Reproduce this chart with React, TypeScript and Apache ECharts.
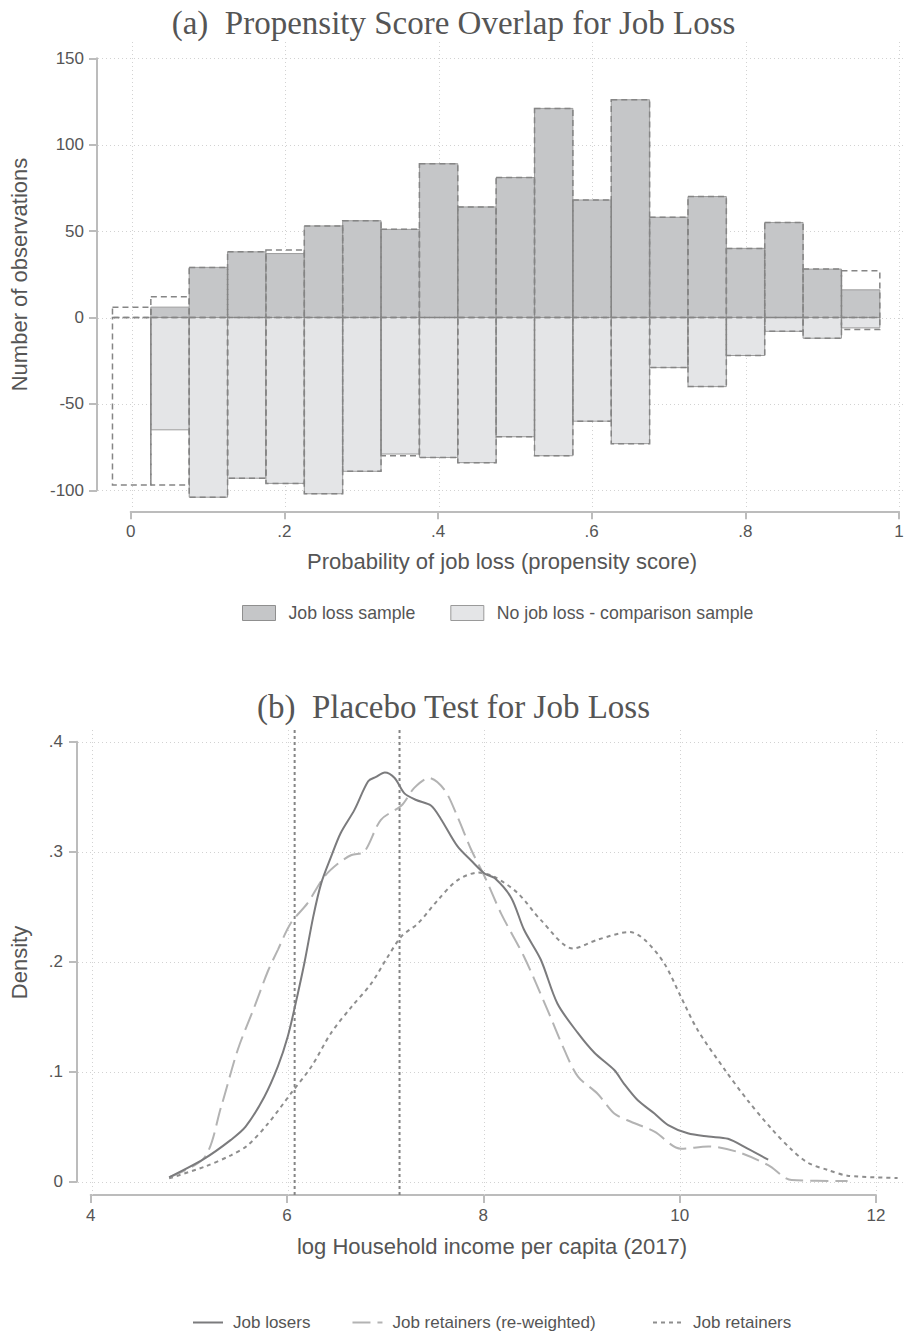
import React, { useEffect, useRef } from "react";
import * as echarts from "echarts";

// ---------- Panel (a): propensity score histogram ----------
const BIN_WIDTH = 0.05;
const binCenters = [0, 0.05, 0.1, 0.15, 0.2, 0.25, 0.3, 0.35, 0.4, 0.45, 0.5, 0.55, 0.6, 0.65, 0.7, 0.75, 0.8, 0.85, 0.9, 0.95];
const jobLossCounts = [0, 6, 29, 38, 37, 53, 56, 51, 89, 64, 81, 121, 68, 126, 58, 70, 40, 55, 28, 16];
const noJobLossCounts = [0, -65, -104, -93, -96, -102, -89, -79, -81, -84, -69, -80, -60, -73, -29, -40, -22, -8, -12, -6];
const jobLossUnweighted = [6, 12, 29, 38, 39, 53, 56, 51, 89, 64, 81, 121, 68, 126, 58, 70, 40, 55, 28, 27];
const noJobLossUnweighted = [-97, -97, -104, -93, -96, -102, -89, -80, -81, -84, -69, -80, -60, -73, -29, -40, -22, -8, -12, -7];
const xTicksA = [0, 0.2, 0.4, 0.6, 0.8, 1];
const xTickLabelsA = ["0", ".2", ".4", ".6", ".8", "1"];
const yTicksA = [-100, -50, 0, 50, 100, 150];

// ---------- Panel (b): kernel densities ----------
const jobLosersDensity = [
  [4.79, 0.004], [5.15, 0.021], [5.42, 0.038], [5.57, 0.05], [5.76, 0.077], [5.9, 0.105],
  [6.0, 0.132], [6.08, 0.162], [6.17, 0.199], [6.26, 0.241], [6.34, 0.271], [6.44, 0.295],
  [6.54, 0.317], [6.68, 0.338], [6.82, 0.364], [6.9, 0.368], [6.99, 0.372], [7.09, 0.367],
  [7.19, 0.353], [7.31, 0.347], [7.46, 0.342], [7.56, 0.33], [7.73, 0.305], [7.87, 0.292],
  [8.01, 0.28], [8.11, 0.276], [8.28, 0.258], [8.41, 0.229], [8.58, 0.202], [8.75, 0.162],
  [8.96, 0.135], [9.13, 0.117], [9.33, 0.1015], [9.43, 0.089], [9.57, 0.074], [9.74, 0.062],
  [9.88, 0.0515], [10.08, 0.044], [10.29, 0.041], [10.49, 0.039], [10.69, 0.03], [10.9, 0.02],
];
const retainersReweightedDensity = [
  [4.79, 0.004], [5.15, 0.022], [5.32, 0.068], [5.49, 0.12], [5.66, 0.159], [5.8, 0.192],
  [5.9, 0.211], [6.03, 0.235], [6.2, 0.253], [6.37, 0.277], [6.51, 0.289], [6.65, 0.297],
  [6.78, 0.3], [6.95, 0.329], [7.16, 0.342], [7.29, 0.358], [7.44, 0.367], [7.6, 0.356],
  [7.73, 0.332], [7.87, 0.302], [8.01, 0.277], [8.18, 0.243], [8.41, 0.2045], [8.65, 0.156],
  [8.82, 0.12], [8.96, 0.0955], [9.16, 0.08], [9.33, 0.062], [9.5, 0.0545], [9.74, 0.0455],
  [10.01, 0.03], [10.29, 0.032], [10.59, 0.027], [10.9, 0.015], [11.14, 0.0015], [11.71, 0.0006],
];
const retainersDensity = [
  [4.79, 0.003], [5.15, 0.0136], [5.42, 0.024], [5.59, 0.033], [5.8, 0.053], [6.03, 0.08],
  [6.24, 0.1045], [6.44, 0.135], [6.65, 0.159], [6.85, 0.18], [7.02, 0.2045], [7.16, 0.223],
  [7.33, 0.235], [7.53, 0.256], [7.73, 0.274], [7.94, 0.281], [8.11, 0.277], [8.35, 0.262],
  [8.58, 0.238], [8.91, 0.212], [9.16, 0.22], [9.49, 0.227], [9.64, 0.22], [9.84, 0.1985],
  [10.01, 0.168], [10.18, 0.138], [10.46, 0.1015], [10.69, 0.074], [10.93, 0.0485], [11.14, 0.029],
  [11.31, 0.017], [11.51, 0.0106], [11.71, 0.0055], [12.22, 0.0034],
];
const referenceLines = [6.07, 7.14];
const xTicksB = [4, 6, 8, 10, 12];
const yTicksB = [0, 0.1, 0.2, 0.3, 0.4];
const yTickLabelsB = ["0", ".1", ".2", ".3", ".4"];

const SANS = "Liberation Sans";
const SERIF = "Liberation Serif";
const TEXT = "#555555";
const AXIS = "#bcbcbc";
const GRIDC = "#d2d2d2";

export default function App() {
  const ref = useRef<HTMLDivElement>(null);
  useEffect(() => {
    if (!ref.current) return;
    const chart = echarts.init(ref.current, null, { renderer: "svg" });

    // layout (pixels)
    const A = { dataL: 97, dataT: 42, dataR: 906, dataB: 507, axL: 130.7, axR: 899, axT: 58.3, axB: 490.3, xLine: 511.3 };
    const B = { dataL: 77, dataT: 730, dataR: 906, dataB: 1195, axL: 90.7, axR: 876, axT: 741.7, axB: 1181.7, xLine: 1195 };

    const axMinA = xTicksA[0], axMaxA = xTicksA[xTicksA.length - 1];
    const ayMinA = yTicksA[0], ayMaxA = yTicksA[yTicksA.length - 1];
    const pxA = (A.axR - A.axL) / (axMaxA - axMinA);
    const pyA = (A.axB - A.axT) / (ayMaxA - ayMinA);
    const x0A = axMinA - (A.axL - A.dataL) / pxA;
    const x1A = axMaxA + (A.dataR - A.axR) / pxA;
    const y0A = ayMinA - (A.dataB - A.axB) / pyA;
    const y1A = ayMaxA + (A.axT - A.dataT) / pyA;

    const axMinB = xTicksB[0], axMaxB = xTicksB[xTicksB.length - 1];
    const ayMinB = yTicksB[0], ayMaxB = yTicksB[yTicksB.length - 1];
    const pxB = (B.axR - B.axL) / (axMaxB - axMinB);
    const pyB = (B.axB - B.axT) / (ayMaxB - ayMinB);
    const x0B = axMinB - (B.axL - B.dataL) / pxB;
    const x1B = axMaxB + (B.dataR - B.axR) / pxB;
    const y0B = ayMinB - (B.dataB - B.axB) / pyB;
    const y1B = ayMaxB + (B.axT - B.dataT) / pyB;

    const hGrid = (xi: number, yi: number, ticks: number[]) => ({
      type: "custom", xAxisIndex: xi, yAxisIndex: yi, silent: true, z: 1,
      data: ticks.map((v) => [0, v]),
      renderItem: (params: any, api: any) => {
        const cs = params.coordSys;
        const y = Math.round(api.coord([0, api.value(1)])[1]) + 0.5;
        return { type: "line", shape: { x1: cs.x, y1: y, x2: cs.x + cs.width, y2: y }, style: { stroke: GRIDC, lineWidth: 1, lineDash: [1, 3] } };
      },
    });
    const vGrid = (xi: number, yi: number, ticks: number[], yv: number) => ({
      type: "custom", xAxisIndex: xi, yAxisIndex: yi, silent: true, z: 1,
      data: ticks.map((v) => [v, yv]),
      renderItem: (params: any, api: any) => {
        const cs = params.coordSys;
        const x = Math.round(api.coord([api.value(0), 0])[0]) + 0.5;
        return { type: "line", shape: { x1: x, y1: cs.y, x2: x, y2: cs.y + cs.height }, style: { stroke: GRIDC, lineWidth: 1, lineDash: [1, 3] } };
      },
    });
    const bars = (name: string | undefined, values: number[], style: any, z: number) => ({
      type: "custom", name, xAxisIndex: 0, yAxisIndex: 0, z,
      itemStyle: { color: style.fill },
      data: binCenters.map((c, i) => [c, values[i]]),
      renderItem: (params: any, api: any) => {
        const c = api.value(0), v = api.value(1);
        if (!v) return null;
        const a = api.coord([c - BIN_WIDTH / 2, 0]);
        const b = api.coord([c + BIN_WIDTH / 2, v]);
        return {
          type: "rect",
          shape: { x: a[0], y: Math.min(a[1], b[1]), width: b[0] - a[0], height: Math.abs(b[1] - a[1]) },
          style,
        };
      },
    });

    const hiddenAxis = (grid: number, min: number, max: number, name: string, gap: number) => ({
      gridIndex: grid, type: "value", min, max, name, nameLocation: "middle", nameGap: gap,
      nameTextStyle: { fontFamily: SANS, fontSize: 22, color: TEXT },
      axisLine: { show: false, onZero: false }, axisTick: { show: false }, axisLabel: { show: false }, splitLine: { show: false },
    });
    const shownAxis = (grid: number, min: number, max: number, interval: number, offset: number, margin: number, fmt: (v: number) => string) => ({
      gridIndex: grid, type: "value", min, max, interval, offset,
      axisLine: { show: true, onZero: false, lineStyle: { color: AXIS, width: 2 } },
      axisTick: { show: true, length: 8, lineStyle: { color: AXIS, width: 2 } },
      axisLabel: { formatter: fmt, color: TEXT, fontFamily: SANS, fontSize: 17, margin },
      splitLine: { show: false },
    });
    const lineLegend = (left: number, names: string[]) => ({
      left, top: 1314, padding: 0, itemWidth: 30, itemHeight: 14, itemGap: 41, selectedMode: false,
      itemStyle: { opacity: 0 },
      textStyle: { fontFamily: SANS, fontSize: 17, color: TEXT, padding: [0, 0, 0, 5] },
      data: names,
    });

    const option: any = {
      animation: false,
      backgroundColor: "#ffffff",
      title: [
        { text: "(a)  Propensity Score Overlap for Job Loss", left: "center", top: 1, textStyle: { fontFamily: SERIF, fontSize: 33, fontWeight: "normal", color: TEXT } },
        { text: "(b)  Placebo Test for Job Loss", left: "center", top: 685, textStyle: { fontFamily: SERIF, fontSize: 33, fontWeight: "normal", color: TEXT } },
      ],
      legend: [
        {
          left: 242, top: 604, padding: 0, itemWidth: 33, itemHeight: 15, itemGap: 35, icon: "rect", selectedMode: false,
          textStyle: { fontFamily: SANS, fontSize: 17.7, color: TEXT, padding: [0, 0, 0, 8] },
          data: [
            { name: "Job loss sample", itemStyle: { color: "#c5c6c8", borderColor: "#8f8f8f", borderWidth: 1 } },
            { name: "No job loss - comparison sample", itemStyle: { color: "#e4e5e7", borderColor: "#9a9a9a", borderWidth: 1 } },
          ],
        },
        lineLegend(192, ["Job losers", "Job retainers (re-weighted)"]),
        lineLegend(652, ["Job retainers"]),
      ],
      grid: [
        { left: A.dataL, top: A.dataT, width: A.dataR - A.dataL, height: A.dataB - A.dataT },
        { left: A.axL, top: A.axT, width: A.axR - A.axL, height: A.axB - A.axT },
        { left: B.dataL, top: B.dataT, width: B.dataR - B.dataL, height: B.dataB - B.dataT },
        { left: B.axL, top: B.axT, width: B.axR - B.axL, height: B.axB - B.axT },
      ],
      xAxis: [
        hiddenAxis(0, x0A, x1A, "Probability of job loss (propensity score)", 43),
        shownAxis(1, axMinA, axMaxA, 0.2, A.xLine - A.axB, 12, (v) => xTickLabelsA[Math.round((v - axMinA) / 0.2)]),
        hiddenAxis(2, x0B, x1B, "log Household income per capita (2017)", 40),
        shownAxis(3, axMinB, axMaxB, 2, B.xLine - B.axB, 12, (v) => String(v)),
      ],
      yAxis: [
        hiddenAxis(0, y0A, y1A, "Number of observations", 68),
        shownAxis(1, ayMinA, ayMaxA, 50, A.axL - A.dataL, 13, (v) => String(v)),
        hiddenAxis(2, y0B, y1B, "Density", 48),
        shownAxis(3, ayMinB, ayMaxB, 0.1, B.axL - B.dataL, 14, (v) => yTickLabelsB[Math.round((v - ayMinB) / 0.1)]),
      ],
      series: [
        hGrid(0, 0, yTicksA),
        vGrid(0, 0, xTicksA, 0),
        bars("No job loss - comparison sample", noJobLossCounts, { fill: "#e4e5e7", stroke: "#9c9c9c", lineWidth: 1 }, 3),
        bars("Job loss sample", jobLossCounts, { fill: "#c5c6c8", stroke: "#9c9c9c", lineWidth: 1 }, 3),
        bars(undefined, noJobLossUnweighted, { fill: "none", stroke: "#858585", lineWidth: 1.5, lineDash: [6, 4] }, 4),
        bars(undefined, jobLossUnweighted, { fill: "none", stroke: "#858585", lineWidth: 1.5, lineDash: [6, 4] }, 4),

        hGrid(2, 2, yTicksB),
        vGrid(2, 2, xTicksB, 0),
        {
          type: "custom", xAxisIndex: 2, yAxisIndex: 2, silent: true, z: 2,
          data: referenceLines.map((v) => [v, 0]),
          renderItem: (params: any, api: any) => {
            const cs = params.coordSys;
            const x = api.coord([api.value(0), 0])[0];
            return { type: "line", shape: { x1: x, y1: cs.y, x2: x, y2: cs.y + cs.height }, style: { stroke: "#858585", lineWidth: 2, lineDash: [3, 3] } };
          },
        },
        {
          type: "line", name: "Job retainers", xAxisIndex: 2, yAxisIndex: 2, data: retainersDensity,
          symbol: "none", showSymbol: false, smooth: 0.3, z: 3,
          itemStyle: { color: "#8e8e8e" },
          lineStyle: { color: "#8e8e8e", width: 2, type: [4, 4] },
        },
        {
          type: "line", name: "Job retainers (re-weighted)", xAxisIndex: 2, yAxisIndex: 2, data: retainersReweightedDensity,
          symbol: "none", showSymbol: false, smooth: 0.3, z: 4,
          itemStyle: { color: "#b3b3b3" },
          lineStyle: { color: "#b3b3b3", width: 2, type: [18, 7] },
        },
        {
          type: "line", name: "Job losers", xAxisIndex: 2, yAxisIndex: 2, data: jobLosersDensity,
          symbol: "none", showSymbol: false, smooth: 0.3, z: 5,
          itemStyle: { color: "#7b7b7d" },
          lineStyle: { color: "#7b7b7d", width: 2 },
        },
      ],
    };
    chart.setOption(option);
    return () => chart.dispose();
  }, []);

  return <div ref={ref} style={{ position: "absolute", left: 0, top: 0, width: 907, height: 1335, background: "#fff" }} />;
}
